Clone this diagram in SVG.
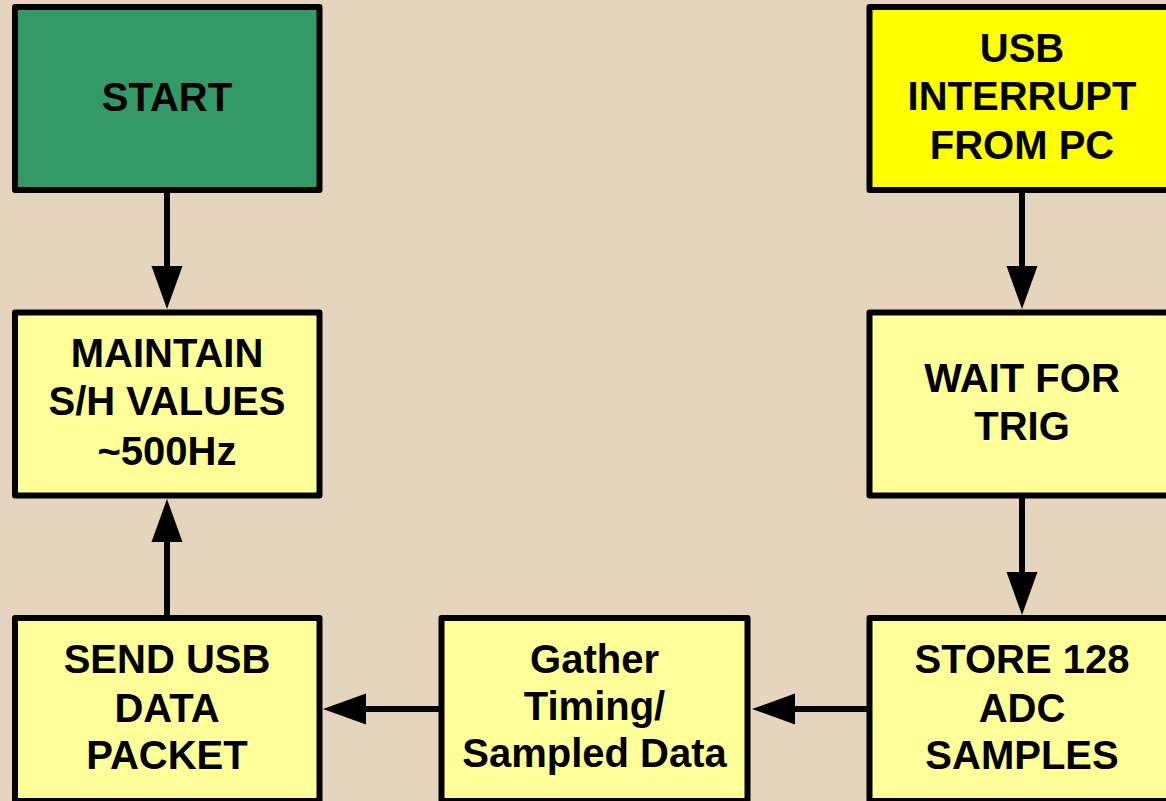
<svg xmlns="http://www.w3.org/2000/svg" width="1166" height="801" viewBox="0 0 1166 801">
<style>
.box{stroke:#000;stroke-width:6;stroke-linejoin:round}
.g{fill:#339966}
.y{fill:#FFFF00}
.ly{fill:#FFFF99}
text{font-family:"Liberation Sans",Arial,sans-serif;font-weight:bold;font-size:40px;fill:#000;text-anchor:middle}
.c{stroke:#000;stroke-width:6;fill:none}
</style>
<defs>
<marker id="ah" markerUnits="userSpaceOnUse" markerWidth="44" markerHeight="32" refX="0" refY="15.5" orient="auto" overflow="visible">
<path d="M0,0 L43,15.5 L0,31 Z" fill="#000"/>
</marker>
</defs>
<rect width="1166" height="801" fill="#E5D5BE"/>
<g id="connectors">
<path class="c" d="M167,190 V266" marker-end="url(#ah)"/>
<path class="c" d="M1022,190 V266" marker-end="url(#ah)"/>
<path class="c" d="M1022,495 V572" marker-end="url(#ah)"/>
<path class="c" d="M869,709 H795" marker-end="url(#ah)"/>
<path class="c" d="M441,709 H366" marker-end="url(#ah)"/>
<path class="c" d="M167,618 V542" marker-end="url(#ah)"/>
</g>
<g id="start">
<rect class="box g" x="15" y="7" width="304.5" height="183"/>
<text x="167" y="111">START</text>
</g>
<g id="usb-interrupt">
<rect class="box y" x="869.5" y="7" width="305" height="183"/>
<text x="1022" y="62">USB</text>
<text x="1022" y="110">INTERRUPT</text>
<text x="1022" y="159">FROM PC</text>
</g>
<g id="maintain">
<rect class="box ly" x="15" y="312.5" width="304.5" height="183"/>
<text x="167" y="367">MAINTAIN</text>
<text x="167" y="415">S/H VALUES</text>
<text x="167" y="465">~500Hz</text>
</g>
<g id="wait-trig">
<rect class="box ly" x="869.5" y="312.5" width="305" height="183"/>
<text x="1022" y="392">WAIT FOR</text>
<text x="1022" y="440">TRIG</text>
</g>
<g id="send-usb">
<rect class="box ly" x="15" y="618" width="304.5" height="183"/>
<text x="167" y="673">SEND USB</text>
<text x="167" y="722">DATA</text>
<text x="167" y="769">PACKET</text>
</g>
<g id="gather">
<rect class="box ly" x="441.5" y="618" width="306" height="183"/>
<text x="594.5" y="673">Gather</text>
<text x="594.5" y="720">Timing/</text>
<text x="594.5" y="767">Sampled Data</text>
</g>
<g id="store">
<rect class="box ly" x="869.5" y="618" width="305" height="183"/>
<text x="1022" y="673">STORE 128</text>
<text x="1022" y="722">ADC</text>
<text x="1022" y="769">SAMPLES</text>
</g>
</svg>
